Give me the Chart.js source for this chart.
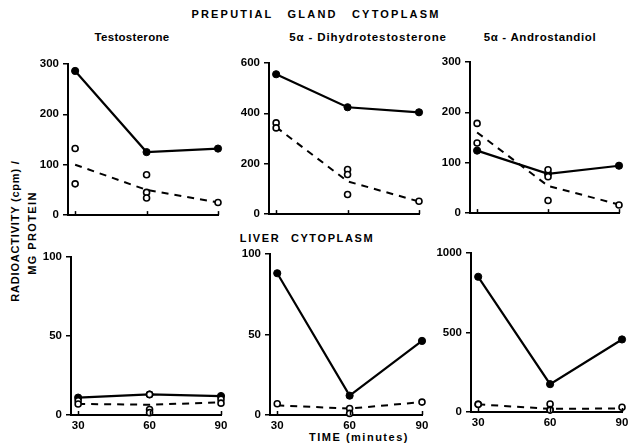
<!DOCTYPE html>
<html>
<head>
<meta charset="utf-8">
<script src="https://cdn.jsdelivr.net/npm/chart.js@4.4.0/dist/chart.umd.min.js"></script>
<style>
  html, body { margin: 0; padding: 0; background: #fff; }
  body { width: 631px; height: 447px; position: relative; overflow: hidden; font-family: "Liberation Sans", Arial, sans-serif; color: #000; }
  canvas { position: absolute; }
  .t { position: absolute; transform: translate(-50%, -50%); white-space: nowrap; font-weight: bold; }
  .r { position: absolute; transform: translate(-50%, -50%) rotate(-90deg); white-space: nowrap; font-weight: bold; }
</style>
</head>
<body>
<div class="t" style="left:316px;top:14px;font-size:11px;letter-spacing:2.2px;word-spacing:9px;">PREPUTIAL GLAND CYTOPLASM</div>
<div class="t" style="left:132px;top:37px;font-size:11.5px;letter-spacing:0.3px;">Testosterone</div>
<div class="t" style="left:368px;top:37px;font-size:11.5px;letter-spacing:0.9px;">5α - Dihydrotestosterone</div>
<div class="t" style="left:540px;top:37px;font-size:11.5px;letter-spacing:0.6px;">5α - Androstandiol</div>
<div class="t" style="left:307px;top:238px;font-size:11px;letter-spacing:1.6px;word-spacing:6px;">LIVER CYTOPLASM</div>
<div class="t" style="left:359px;top:437px;font-size:11px;letter-spacing:1.5px;">TIME (minutes)</div>
<div class="r" style="left:15px;top:231px;font-size:11px;letter-spacing:0.8px;">RADIOACTIVITY (cpm) /</div>
<div class="r" style="left:32px;top:233px;font-size:11px;letter-spacing:1.4px;">MG PROTEIN</div>

<canvas id="c1"></canvas>
<canvas id="c2"></canvas>
<canvas id="c3"></canvas>
<canvas id="c4"></canvas>
<canvas id="c5"></canvas>
<canvas id="c6"></canvas>

<script>
// ---- data ----
const times = [30, 60, 90];

// Preputial gland cytoplasm
const prepTestoFilled = [286, 125, 132];
const prepTestoMean   = [100, 50, 25];
const prepTestoOpen   = [[132, 62], [80, 45, 34], [25]];

const prepDhtFilled = [555, 424, 404];
const prepDhtMean   = [345, 130, 50];
const prepDhtOpen   = [[362, 342], [177, 157, 78], [51]];

const prepAdiolFilled = [124, 78, 94];
const prepAdiolMean   = [160, 54, 17];
const prepAdiolOpen   = [[178, 139], [86, 72, 25], [16]];

// Liver cytoplasm
const livTestoFilled = [11, 13, 12];
const livTestoMean   = [7, 6.5, 8];
const livTestoOpen   = [[9, 7], [13, 3.5, 1.5], [10, 7.5]];

const livDhtFilled = [88, 12, 46];
const livDhtMean   = [6, 4, 8];
const livDhtOpen   = [[7], [4, 1], [8]];

const livAdiolFilled = [850, 175, 456];
const livAdiolMean   = [48, 20, 22];
const livAdiolOpen   = [[48, 48], [50, 15, 12], [30]];

// y-axis tick values
const yTicks1 = [0, 100, 200, 300];
const yTicks2 = [0, 200, 400, 600];
const yTicks3 = [0, 100, 200, 300];
const yTicks4 = [0, 50, 100];
const yTicks5 = [0, 50, 100];
const yTicks6 = [0, 500, 1000];

// ---- layout of panels (plot area in page pixels) ----
const panels = [
  { id: 'c1', L: 68,  T: 63,  R: 218, B: 216, filled: prepTestoFilled, mean: prepTestoMean, open: prepTestoOpen, yTicks: yTicks1, xLabels: false },
  { id: 'c2', L: 269, T: 62,  R: 419, B: 215, filled: prepDhtFilled,   mean: prepDhtMean,   open: prepDhtOpen,   yTicks: yTicks2, xLabels: false },
  { id: 'c3', L: 470, T: 61,  R: 619, B: 214, filled: prepAdiolFilled, mean: prepAdiolMean, open: prepAdiolOpen, yTicks: yTicks3, xLabels: false },
  { id: 'c4', L: 71,  T: 256, R: 221, B: 415, filled: livTestoFilled,  mean: livTestoMean,  open: livTestoOpen,  yTicks: yTicks4, xLabels: true },
  { id: 'c5', L: 270, T: 253, R: 422, B: 415, filled: livDhtFilled,    mean: livDhtMean,    open: livDhtOpen,    yTicks: yTicks5, xLabels: true },
  { id: 'c6', L: 471, T: 252, R: 622, B: 412, filled: livAdiolFilled,  mean: livAdiolMean,  open: livAdiolOpen,  yTicks: yTicks6, xLabels: true },
];

const Y_W = 40, PAD_T = 10, PAD_R = 14;
const FONT = { family: '"Liberation Sans", Arial, sans-serif', size: 11.5, weight: 'bold' };

// small upward tick marks on the x axes, as in the reference
const innerXTicks = {
  id: 'innerXTicks',
  afterDraw(chart) {
    const ctx = chart.ctx, xs = chart.scales.x, a = chart.chartArea;
    ctx.save();
    ctx.strokeStyle = '#000'; ctx.lineWidth = 1.5;
    times.forEach(t => {
      const px = Math.round(xs.getPixelForValue(t)) + 0.5;
      ctx.beginPath(); ctx.moveTo(px, a.bottom); ctx.lineTo(px, a.bottom - 4); ctx.stroke();
    });
    ctx.restore();
  }
};

panels.forEach(p => {
  const xh = p.xLabels ? 22 : 10;
  const cv = document.getElementById(p.id);
  const w = (p.R - p.L) + Y_W + PAD_R;
  const h = (p.B - p.T) + PAD_T + xh;
  cv.width = w; cv.height = h;
  cv.style.left = (p.L - Y_W) + 'px';
  cv.style.top = (p.T - PAD_T) + 'px';
  cv.style.width = w + 'px';
  cv.style.height = h + 'px';

  const openPts = [];
  p.open.forEach((vals, i) => vals.forEach(v => openPts.push({ x: times[i], y: v })));

  new Chart(cv, {
    type: 'line',
    data: {
      datasets: [
        {
          data: times.map((t, i) => ({ x: t, y: p.mean[i] })),
          borderColor: '#000', borderWidth: 2, borderDash: [7, 6],
          pointRadius: 0, fill: false, tension: 0, clip: false, order: 3
        },
        {
          data: times.map((t, i) => ({ x: t, y: p.filled[i] })),
          borderColor: '#000', borderWidth: 2.2,
          pointRadius: 3.6, pointBackgroundColor: '#000', pointBorderColor: '#000', pointBorderWidth: 1,
          fill: false, tension: 0, clip: false, order: 2
        },
        {
          data: openPts, showLine: false,
          pointRadius: 3, pointBackgroundColor: '#fff', pointBorderColor: '#000', pointBorderWidth: 1.6,
          clip: false, order: 1
        }
      ]
    },
    options: {
      responsive: false, animation: false, devicePixelRatio: 1,
      layout: { padding: { top: PAD_T, right: PAD_R, left: 0, bottom: 0 } },
      plugins: { legend: { display: false }, tooltip: { enabled: false }, title: { display: false } },
      scales: {
        x: {
          type: 'linear', min: 27, max: 90,
          afterBuildTicks: s => { s.ticks = times.map(v => ({ value: v })); },
          afterFit: s => { s.height = xh; },
          grid: { display: false, drawTicks: false, tickLength: 0 },
          border: { display: true, color: '#000', width: 2 },
          ticks: { display: p.xLabels, color: '#000', font: FONT, padding: 4, maxRotation: 0, autoSkip: false,
                   callback: v => String(v) }
        },
        y: {
          type: 'linear', min: p.yTicks[0], max: p.yTicks[p.yTicks.length - 1],
          afterBuildTicks: s => { s.ticks = p.yTicks.map(v => ({ value: v })); },
          afterFit: s => { s.width = Y_W; },
          grid: { display: true, drawOnChartArea: false, drawTicks: true, tickLength: 5, color: '#000', lineWidth: 1.5 },
          border: { display: true, color: '#000', width: 2 },
          ticks: { color: '#000', font: FONT, padding: 4, callback: v => String(v) }
        }
      }
    },
    plugins: [innerXTicks]
  });
});
</script>
</body>
</html>
